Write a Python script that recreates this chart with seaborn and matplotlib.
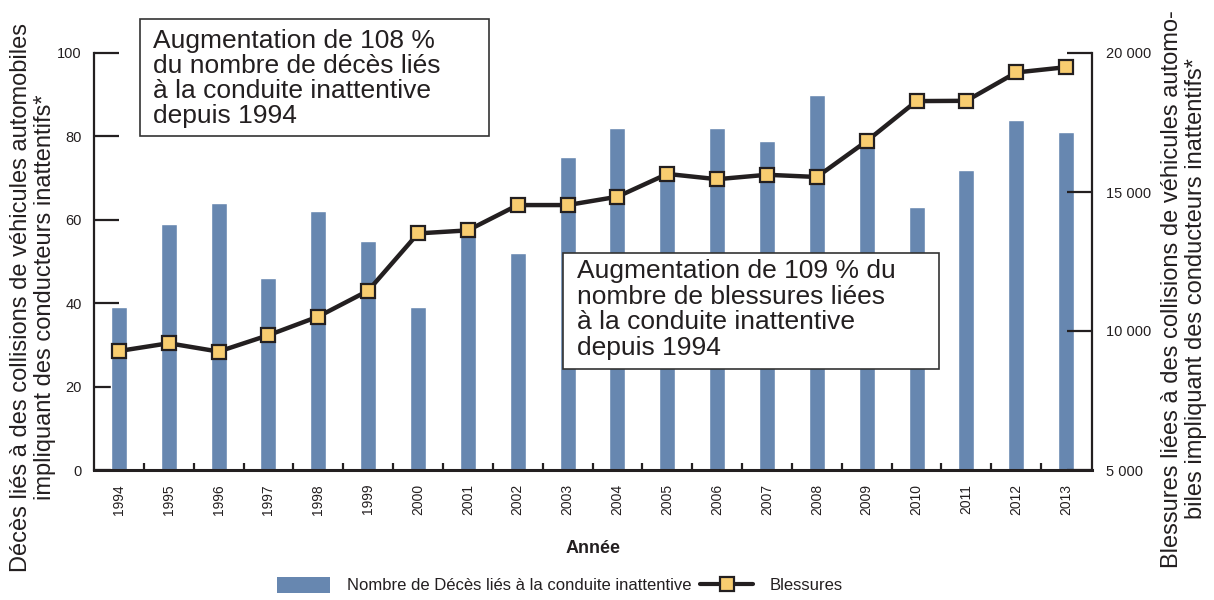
import numpy as np
import pandas as pd
import matplotlib
matplotlib.use('Agg')
import matplotlib.pyplot as plt
from matplotlib.patches import Rectangle, Patch
from matplotlib.lines import Line2D
import seaborn as sns

# donnees
annees = [str(a) for a in range(1994, 2014)]
deces = [39, 59, 64, 46, 62, 55, 39, 59, 52, 75, 82, 71, 82, 79, 90, 80, 63, 72, 84, 81]
blessures = [9280, 9560, 9260, 9850, 10520, 11450, 13510, 13620, 14530, 14530,
             14830, 15650, 15460, 15620, 15540, 16830, 18270, 18280, 19300, 19490]

gauche_ticks = [0, 20, 40, 60, 80, 100]
droite_ticks = [5000, 10000, 15000, 20000]
droite_labels = ['5 000', '10 000', '15 000', '20 000']

bleu = '#6787b0'
jaune = '#f8cd70'
noir = '#231f20'

sns.set_style('white')
plt.rcParams['font.family'] = ['Liberation Sans', 'DejaVu Sans']

df = pd.DataFrame({'annee': annees, 'deces': deces, 'blessures': blessures})
df['pos'] = np.arange(len(df))

fig = plt.figure(figsize=(12.14, 6), dpi=100)
ax = fig.add_axes([94 / 1214, 1 - 470 / 600, 998 / 1214, 417 / 600])

sns.barplot(data=df, x='annee', y='deces', color=bleu, width=0.32,
            saturation=1, ax=ax, zorder=1)
ax.set_xlim(-0.5, 19.52)
ax.set_ylim(0, 100)
ax.set_yticks(gauche_ticks)
ax.tick_params(axis='y', direction='in', length=18, width=1.6, color=noir,
               labelsize=10.5, pad=9, left=True, labelcolor=noir)
ax.set_xticks(np.arange(len(annees)))
ax.set_xticklabels(annees, rotation=90, fontsize=10, color=noir)
ax.tick_params(axis='x', which='major', length=0, pad=10)
ax.set_xticks(np.arange(len(annees) - 1) + 0.5, minor=True)
ax.tick_params(axis='x', which='minor', direction='in', length=5, width=1.6,
               color=noir, bottom=True)
ax.set_xlabel('Année', fontsize=13, fontweight='bold', labelpad=18, color=noir)
ax.set_ylabel('')
for s in ['top', 'right']:
    ax.spines[s].set_visible(False)
ax.spines['left'].set_color(noir)
ax.spines['bottom'].set_color(noir)
ax.spines['left'].set_linewidth(1.6)
ax.spines['bottom'].set_linewidth(2.2)

ax2 = ax.twinx()
sns.lineplot(data=df, x='pos', y='blessures', color=noir, linewidth=3.2,
             marker='s', markersize=10.5, markerfacecolor=jaune,
             markeredgecolor=noir, markeredgewidth=1.6, ax=ax2, zorder=3)
ax2.set_ylim(5000, 20000)
ax2.set_yticks(droite_ticks)
ax2.set_yticklabels(droite_labels)
ax2.set_xlim(-0.5, 19.52)
ax2.tick_params(axis='y', direction='in', length=18, width=1.6, color=noir,
                labelsize=10.5, pad=10, right=True, labelcolor=noir)
ax2.set_ylabel('')
ax2.set_xlabel('')
for s in ['top', 'left', 'bottom']:
    ax2.spines[s].set_visible(False)
ax2.spines['right'].set_color(noir)
ax2.spines['right'].set_linewidth(1.6)

# titres des axes
fig.text(33 / 1214, 1 - 297 / 600, 'Décès liés à des collisions de véhicules automobiles\n'
         'impliquant des conducteurs inattentifs*', rotation=90, ha='center',
         va='center', fontsize=17, color=noir, linespacing=1.08,
         multialignment='center')
fig.text(1184 / 1214, 1 - 289 / 600, 'Blessures liées à des collisions de véhicules automo-\n'
         'biles impliquant des conducteurs inattentifs*', rotation=90, ha='center',
         va='center', fontsize=17, color=noir, linespacing=1.08,
         multialignment='center')

# encadres
fig.patches.append(Rectangle((140 / 1214, 1 - 136 / 600), 349 / 1214, 117 / 600,
                             transform=fig.transFigure, facecolor='white',
                             edgecolor='#333333', linewidth=1.2, zorder=5))
fig.text(153 / 1214, 1 - 29 / 600, 'Augmentation de 108 %\ndu nombre de décès liés\n'
         'à la conduite inattentive\ndepuis 1994', ha='left', va='top',
         fontsize=19, color=noir, linespacing=1.06, zorder=6)
fig.patches.append(Rectangle((563 / 1214, 1 - 369 / 600), 376 / 1214, 116 / 600,
                             transform=fig.transFigure, facecolor='white',
                             edgecolor='#333333', linewidth=1.2, zorder=5))
fig.text(577 / 1214, 1 - 259 / 600, 'Augmentation de 109 % du\nnombre de blessures liées\n'
         'à la conduite inattentive\ndepuis 1994', ha='left', va='top',
         fontsize=19, color=noir, linespacing=1.08, zorder=6)

# legende
handles = [Patch(facecolor=bleu, edgecolor='none'),
           Line2D([], [], color=noir, linewidth=3, marker='s', markersize=10,
                  markerfacecolor=jaune, markeredgecolor=noir, markeredgewidth=1.6)]
labels = ['Nombre de Décès liés à la conduite inattentive', 'Blessures']
fig.legend(handles, labels, loc='center', bbox_to_anchor=(560 / 1214, 1 - 585 / 600),
           ncol=2, frameon=False, fontsize=12, handlelength=3.2, handleheight=1.1,
           columnspacing=0.5, handletextpad=1.0, labelcolor=noir)

fig.savefig('out.png', dpi=100)
